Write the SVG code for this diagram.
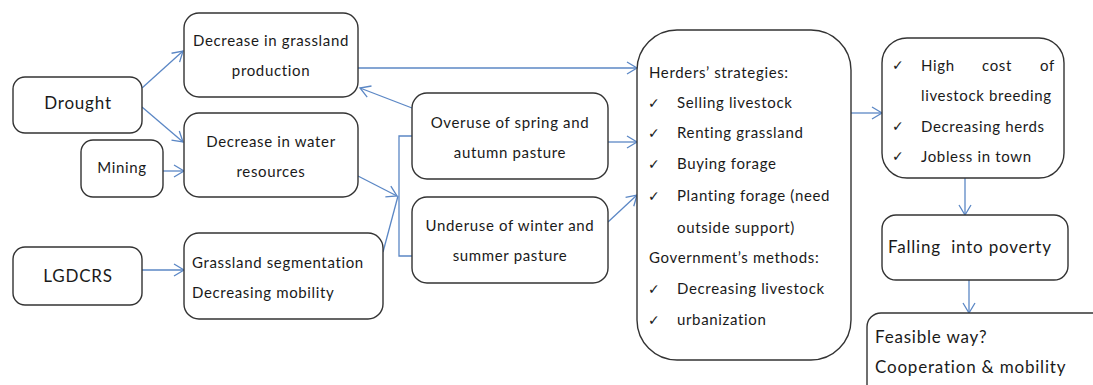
<svg xmlns="http://www.w3.org/2000/svg" width="1093" height="385" viewBox="0 0 1093 385">
<style>
.box{fill:#fff;stroke:#333;stroke-width:1.4}
.t{font-family:Lato,"Liberation Sans",sans-serif;font-size:15px;letter-spacing:0.65px;fill:#1a1a1a}
.tl{font-family:Lato,"Liberation Sans",sans-serif;font-size:17px;letter-spacing:0.8px;fill:#1a1a1a}
.ck{font-family:"DejaVu Sans",sans-serif;font-size:14px;fill:#1a1a1a}
.c{fill:none;stroke:#5b87c5;stroke-width:1.3}
</style>
<defs>
<marker id="a" markerUnits="userSpaceOnUse" markerWidth="14" markerHeight="14" refX="11" refY="7" orient="auto">
<path d="M1,1 L11,7 L1,13" fill="none" stroke="#5b87c5" stroke-width="1.3"/>
</marker>
</defs>
<rect width="1093" height="385" fill="#fff"/>
<g id="connectors">
<line class="c" x1="142" y1="88" x2="183" y2="51" marker-end="url(#a)"/>
<line class="c" x1="142" y1="107" x2="183" y2="142" marker-end="url(#a)"/>
<line class="c" x1="163" y1="171" x2="184" y2="171" marker-end="url(#a)"/>
<line class="c" x1="142" y1="270" x2="184" y2="270" marker-end="url(#a)"/>
<line class="c" x1="358" y1="68" x2="637" y2="68" marker-end="url(#a)"/>
<line class="c" x1="412" y1="108" x2="360" y2="88" marker-end="url(#a)"/>
<line class="c" x1="358" y1="176" x2="397" y2="196" marker-end="url(#a)"/>
<line class="c" x1="383" y1="252" x2="398" y2="196"/>
<polyline class="c" points="412,136 399,136 399,256 412,256"/>
<line class="c" x1="608" y1="142" x2="637" y2="142" marker-end="url(#a)"/>
<line class="c" x1="608" y1="222" x2="637" y2="195" marker-end="url(#a)"/>
<line class="c" x1="851" y1="113" x2="882" y2="113" marker-end="url(#a)"/>
<line class="c" x1="965" y1="178" x2="965" y2="215" marker-end="url(#a)"/>
<line class="c" x1="969" y1="280" x2="969" y2="313" marker-end="url(#a)"/>
</g>
<g id="drought">
<rect class="box" x="13" y="77" width="129" height="56" rx="12"/>
<text class="tl" x="78" y="109" text-anchor="middle">Drought</text>
</g>
<g id="mining">
<rect class="box" x="81" y="140" width="82" height="57" rx="12"/>
<text class="t" x="122" y="173" text-anchor="middle">Mining</text>
</g>
<g id="lgdcrs">
<rect class="box" x="13" y="247" width="129" height="58" rx="12"/>
<text class="tl" x="78" y="282" text-anchor="middle">LGDCRS</text>
</g>
<g id="grassland-production">
<rect class="box" x="184" y="13" width="174" height="84" rx="15"/>
<text class="t" x="271" y="46" text-anchor="middle">Decrease in grassland</text>
<text class="t" x="271" y="76" text-anchor="middle">production</text>
</g>
<g id="water">
<rect class="box" x="184" y="113" width="174" height="84" rx="15"/>
<text class="t" x="271" y="147" text-anchor="middle">Decrease in water</text>
<text class="t" x="271" y="177" text-anchor="middle">resources</text>
</g>
<g id="segmentation">
<rect class="box" x="184" y="233" width="199" height="86" rx="15"/>
<text class="t" x="192" y="268">Grassland segmentation</text>
<text class="t" x="192" y="298">Decreasing mobility</text>
</g>
<g id="overuse">
<rect class="box" x="412" y="93" width="196" height="86" rx="15"/>
<text class="t" x="510" y="128" text-anchor="middle">Overuse of spring and</text>
<text class="t" x="510" y="158" text-anchor="middle">autumn pasture</text>
</g>
<g id="underuse">
<rect class="box" x="412" y="197" width="196" height="86" rx="15"/>
<text class="t" x="510" y="231" text-anchor="middle">Underuse of winter and</text>
<text class="t" x="510" y="261" text-anchor="middle">summer pasture</text>
</g>
<g id="strategies">
<rect class="box" x="637" y="30" width="214" height="330" rx="40"/>
<text class="t" x="649" y="78">Herders’ strategies:</text>
<text class="ck" x="648" y="108">✓</text><text class="t" x="677" y="108">Selling livestock</text>
<text class="ck" x="648" y="138">✓</text><text class="t" x="677" y="138">Renting grassland</text>
<text class="ck" x="648" y="169">✓</text><text class="t" x="677" y="169">Buying forage</text>
<text class="ck" x="648" y="201">✓</text><text class="t" x="677" y="201">Planting forage (need</text>
<text class="t" x="677" y="233">outside support)</text>
<text class="t" x="649" y="263">Government’s methods:</text>
<text class="ck" x="648" y="294">✓</text><text class="t" x="677" y="294">Decreasing livestock</text>
<text class="ck" x="648" y="325">✓</text><text class="t" x="677" y="325">urbanization</text>
</g>
<g id="consequences">
<rect class="box" x="882" y="38" width="182" height="140" rx="25"/>
<text class="ck" x="892" y="70">✓</text>
<text class="t" x="921" y="71">High</text>
<text class="t" x="982" y="71">cost</text>
<text class="t" x="1055" y="71" text-anchor="end">of</text>
<text class="t" x="921" y="101">livestock breeding</text>
<text class="ck" x="892" y="131">✓</text><text class="t" x="921" y="132">Decreasing herds</text>
<text class="ck" x="892" y="161">✓</text><text class="t" x="921" y="162">Jobless in town</text>
</g>
<g id="poverty">
<rect class="box" x="882" y="215" width="186" height="65" rx="14"/>
<text class="tl" x="888" y="253" style="white-space:pre">Falling  into poverty</text>
</g>
<g id="feasible">
<rect class="box" x="867" y="313" width="250" height="90" rx="14"/>
<text class="tl" x="875" y="343">Feasible way?</text>
<text class="tl" x="875" y="373">Cooperation &amp; mobility</text>
</g>
</svg>
